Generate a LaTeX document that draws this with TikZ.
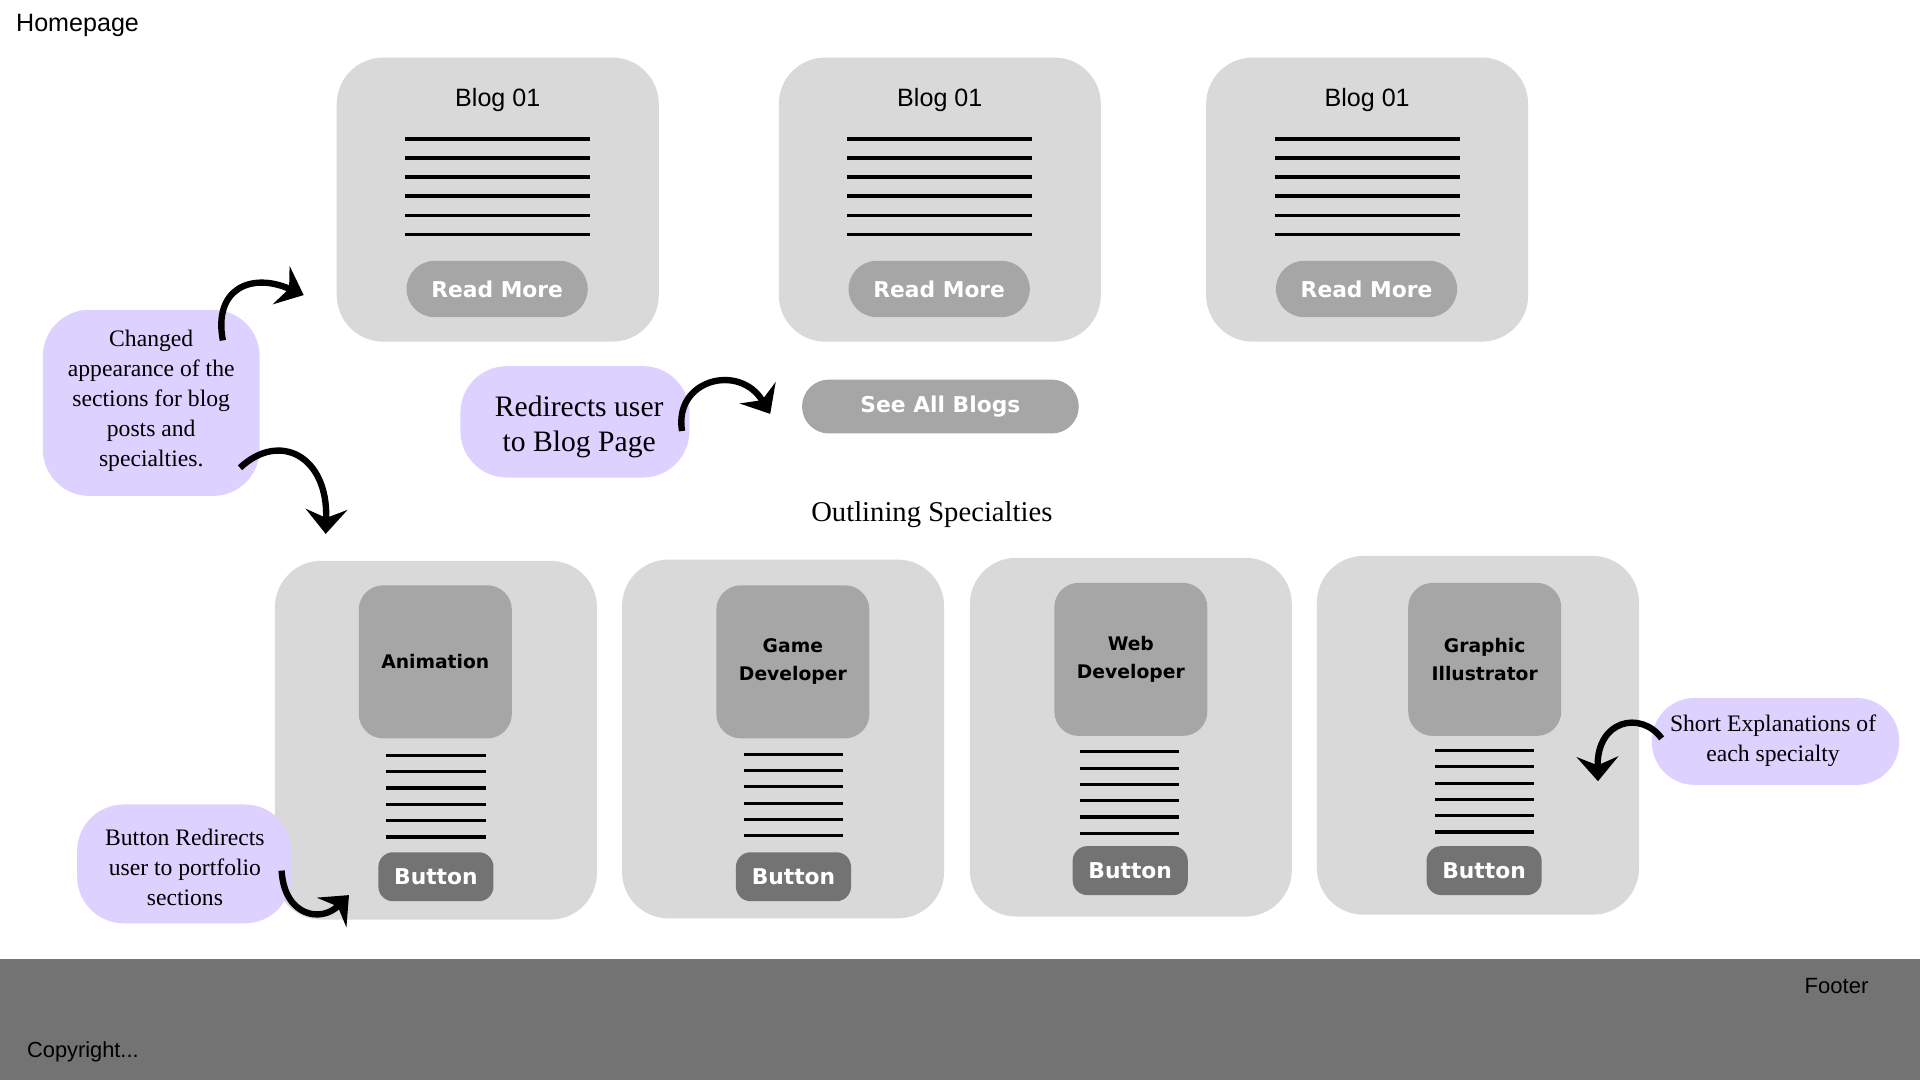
\documentclass[tikz,border=0pt]{standalone}
\usepackage{fontspec}
\setmainfont{Liberation Serif}
\newfontfamily\uisans{Liberation Sans}
\newfontfamily\heavy{DejaVu Sans}
\usetikzlibrary{arrows.meta}
\definecolor{cardgray}{HTML}{D9D9D9}
\definecolor{tilegray}{HTML}{A6A6A6}
\definecolor{darkgrey}{HTML}{737373}
\definecolor{lav}{HTML}{DCD1FF}
\begin{document}
\begin{tikzpicture}[x=1pt,y=-1pt,
  card/.style={fill=cardgray, rounded corners=38pt, minimum width=263pt, inner sep=0pt},
  blogcard/.style={card, minimum height=232pt},
  speccard/.style={card, minimum height=293pt},
  heavytext/.style={font=\heavy\bfseries\fontsize{17.8}{20}\selectfont},
  pillbtn/.style={fill=tilegray, text=white, heavytext, inner sep=0pt, minimum height=46pt, rounded corners=23pt},
  tile/.style={fill=tilegray, rounded corners=20pt, minimum width=125pt, minimum height=125pt, inner sep=0pt,
               font=\heavy\bfseries\fontsize{15.3}{23}\selectfont, align=center},
  btn/.style={fill=darkgrey, text=white, heavytext, rounded corners=12pt, minimum width=94pt, minimum height=40pt, inner sep=0pt},
  note/.style={fill=lav, rounded corners=38pt, align=center, inner sep=0pt, font=\fontsize{19.3}{24.5}\selectfont},
  notetext/.style={align=center, inner sep=0pt, font=\fontsize{19.3}{24.5}\selectfont},
  txtrule/.style={line width=3pt},
  spcrule/.style={line width=2.6pt},
  brush/.style={line width=5.2pt, -{Stealth[length=20pt, width=34pt, inset=7pt]}},
  uilabel/.style={font=\uisans\fontsize{20.5}{24}\selectfont, inner sep=0pt}
]
\useasboundingbox (0,0) rectangle (1568,882);
\fill[white] (0,0) rectangle (1568,882);

% header
\node[uilabel, anchor=west] (home) at (13,20.5) {Homepage};

% blog cards
\foreach \n/\cx in {1/406.5, 2/767.5, 3/1116.5} {
  \node[blogcard] (blog\n) at (\cx,163) {};
  \node[uilabel] (blogt\n) at (\cx,81.5) {Blog 01};
  \foreach \i in {0,...,5}
    \draw[txtrule] (\cx-75.5, 113.5+15.6*\i) -- (\cx+75.5, 113.5+15.6*\i);
  \node[pillbtn, minimum width=148pt] (read\n) at (\cx-0.5,236) {Read More};
}

% see all blogs
\node[pillbtn, minimum width=226pt, minimum height=44pt, rounded corners=22pt] (seeall) at (768,332) {See All Blogs};

% heading
\node[font=\fontsize{23.4}{28}\selectfont, inner sep=0pt] (outl) at (761,420.5) {Outlining Specialties};

% specialty cards
\node[speccard] (spec1) at (356,604.5) {};
\node[speccard] (spec2) at (639.5,603.5) {};
\node[speccard] (spec3) at (923.5,602) {};
\node[speccard] (spec4) at (1207,600.5) {};

\node[tile] (tile1) at (355.5,540.5) {Animation};
\node[tile] (tile2) at (647.5,540.5) {Game\\Developer};
\node[tile] (tile3) at (923.5,538.5) {Web\\Developer};
\node[tile] (tile4) at (1212.5,538.5) {Graphic\\Illustrator};

\foreach \cx/\ty in {356/617, 648/616, 922.5/614, 1212.5/613}
  \foreach \i in {0,...,5}
    \draw[spcrule] (\cx-40.5, \ty+13.3*\i) -- (\cx+40.5, \ty+13.3*\i);

\node[btn] (btn1) at (356,716) {Button};
\node[btn] (btn2) at (648,716) {Button};
\node[btn] (btn3) at (923,711) {Button};
\node[btn] (btn4) at (1212,711) {Button};

% notes
\node[note, minimum width=177pt, minimum height=152pt] (note1) at (123.5,329) {};
\node[notetext] (note1t) at (123.5,327.5)
  {Changed\\appearance of the\\sections for blog\\posts and\\specialties.};
\node[note, minimum width=187pt, minimum height=91pt] (note2) at (469.5,344.5) {};
\node[notetext, font=\fontsize{24.2}{29}\selectfont] (note2t) at (473,348.5)
  {Redirects user\\to Blog Page};
\node[note, minimum width=175pt, minimum height=97pt] (note3) at (150.5,705.5) {};
\node[notetext] (note3t) at (151,708.5)
  {Button Redirects\\user to portfolio\\sections};
\node[note, minimum width=202pt, minimum height=71pt, rounded corners=35pt] (note4) at (1450,605.5) {};
\node[notetext] (note4t) at (1448,605)
  {Short Explanations of\\each specialty};

% arrows
\coordinate (a1s) at (182,278);
\coordinate (a1e) at (248,241);
\draw[brush] (a1s) .. controls (174,236) and (205,222) .. (a1e);

\coordinate (a2s) at (196,382);
\coordinate (a2e) at (266,436);
\draw[brush] (a2s) .. controls (228,352) and (268,372) .. (a2e);

\coordinate (a3s) at (557,352);
\coordinate (a3e) at (629,338);
\draw[brush] (a3s) .. controls (550,310) and (604,296) .. (a3e);

\coordinate (a4s) at (230,711);
\coordinate (a4e) at (285,731);
\draw[brush] (a4s) .. controls (232,748) and (262,754) .. (a4e);

\coordinate (a5s) at (1357,603);
\coordinate (a5e) at (1305,638);
\draw[brush] (a5s) .. controls (1340,580) and (1304,588) .. (a5e);

% footer
\node[fill=darkgrey, minimum width=1568pt, minimum height=99pt, inner sep=0pt] (footer) at (784,832.5) {};
\node[font=\uisans\fontsize{18}{22}\selectfont, inner sep=0pt, anchor=east] (foottxt) at (1526,805) {Footer};
\node[font=\uisans\fontsize{17.8}{22}\selectfont, inner sep=0pt, anchor=west] (copy) at (22,859) {Copyright...};
\end{tikzpicture}
\end{document}
